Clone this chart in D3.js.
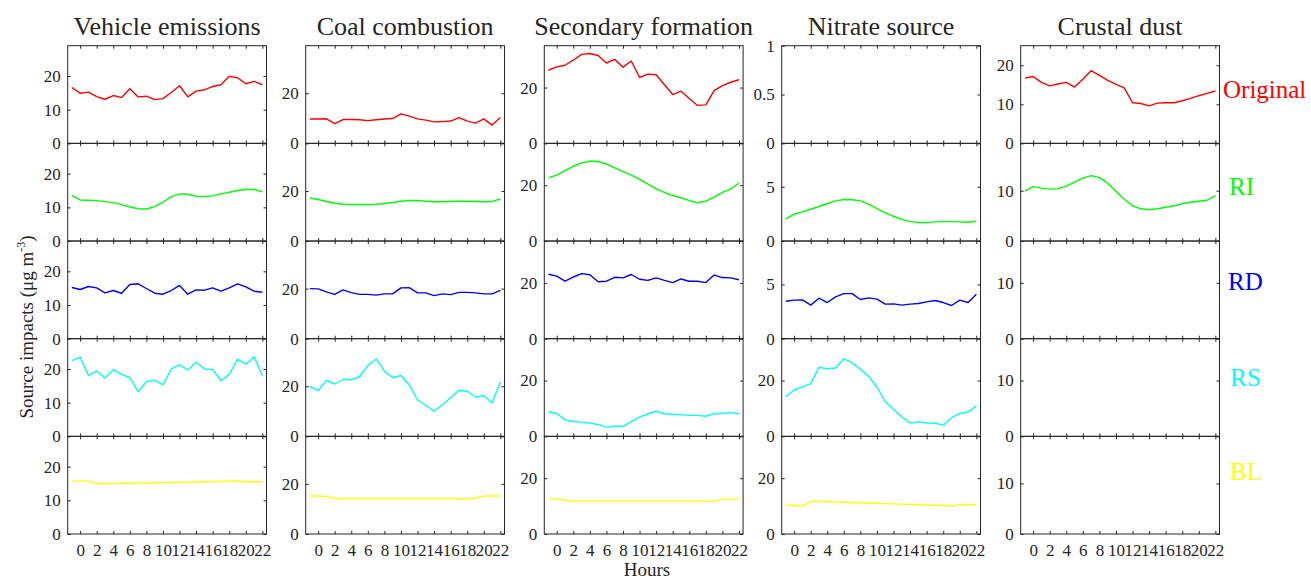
<!DOCTYPE html>
<html><head><meta charset="utf-8">
<script src="https://cdn.jsdelivr.net/npm/d3@7/dist/d3.min.js"></script>
<style>
body{margin:0;background:#fff}
svg text{font-family:"Liberation Serif","Times New Roman",serif;fill:#262626}
</style>
</head><body>
<svg id="chart" width="1311" height="578"></svg>
<script>
// ---------------- DATA ----------------
const sources = ["Vehicle emissions","Coal combustion","Secondary formation","Nitrate source","Crustal dust"];
const methods = ["Original","RI","RD","RS","BL"];
const methodColors = ["#ff0000","#00ff00","#0000ff","#00ffff","#ffff00"];
const hours = [1,2,3,4,5,6,7,8,9,10,11,12,13,14,15,16,17,18,19,20,21,22,23,24];
const hourTicks = [2,4,6,8,10,12,14,16,18,20,22,24];
const hourTickLabels = ["0","2","4","6","8","10","12","14","16","18","20","22"];

const vehicleOriginal = [16.6,14.9,15.2,13.9,13.1,14.2,13.6,16.2,13.8,14.0,13.0,13.3,15.1,17.1,13.8,15.5,15.9,16.9,17.4,19.9,19.5,17.7,18.4,17.4];
const vehicleRI = [13.5,12.2,12.1,12.0,11.7,11.4,10.8,10.1,9.6,9.5,10.2,11.5,13.2,14.0,13.9,13.3,13.2,13.4,14.0,14.5,15.0,15.3,15.3,14.6];
const vehicleRD = [15.2,14.6,15.5,15.1,13.6,14.3,13.5,16.1,16.3,14.9,13.5,13.2,14.3,15.8,13.2,14.5,14.4,15.1,14.1,15.1,16.3,15.4,14.1,13.8];
const vehicleRS = [22.5,23.5,18.1,19.4,17.3,19.8,18.4,17.4,13.3,16.2,16.7,15.3,20.0,21.2,19.7,22.0,20.0,19.8,16.5,18.4,22.9,21.4,23.6,18.0];
const vehicleBL = [15.7,15.7,15.7,14.9,14.9,14.95,15.0,15.05,15.1,15.15,15.2,15.25,15.3,15.35,15.4,15.45,15.5,15.55,15.6,15.7,15.75,15.5,15.5,15.5];

const coalOriginal = [9.7,9.7,9.8,7.9,9.5,9.5,9.4,9.1,9.4,9.7,9.9,11.8,10.9,9.8,9.3,8.6,8.7,8.9,10.3,8.9,8.1,9.8,7.3,10.3];
const coalRI = [17.2,16.6,15.8,15.1,14.7,14.6,14.6,14.6,14.7,15.0,15.4,15.9,16.2,16.2,15.9,15.7,15.7,15.8,15.9,15.9,15.8,15.7,15.8,16.8];
const coalRD = [20.0,19.9,18.7,17.7,19.5,18.4,17.7,17.7,17.4,17.9,17.9,20.3,20.4,18.3,18.3,17.2,17.9,17.6,18.5,18.5,18.3,17.9,17.9,19.3];
const coalRS = [20.0,18.3,22.3,20.9,22.7,22.6,23.8,28.3,30.9,26.0,23.4,24.3,20.5,14.5,12.3,10.1,12.6,15.4,18.4,18.0,15.7,16.2,13.4,21.7];
const coalBL = [15.2,15.2,15.0,14.2,14.2,14.2,14.2,14.2,14.2,14.2,14.2,14.2,14.2,14.2,14.2,14.2,14.2,14.2,14.2,14.2,14.2,15.2,15.2,15.2];

const secondaryOriginal = [26.2,27.4,28.0,29.8,31.9,32.2,31.5,28.8,30.1,27.3,29.5,23.6,24.8,24.6,21.0,17.5,18.7,16.1,13.6,13.8,18.9,20.7,21.9,22.8];
const secondaryRI = [22.7,23.6,25.2,26.8,28.0,28.6,28.5,27.6,26.2,24.9,23.6,22.1,20.4,18.7,17.4,16.3,15.5,14.5,13.7,14.3,15.7,17.4,18.7,20.7];
const secondaryRD = [23.1,22.4,20.6,22.1,23.3,22.9,20.4,20.6,22.0,21.8,23.0,21.3,20.9,21.8,20.9,20.1,21.4,20.6,20.6,20.1,22.8,21.9,21.8,21.1];
const secondaryRS = [8.8,8.2,5.9,5.3,5.0,4.8,4.2,3.3,3.6,3.6,5.3,7.0,8.0,9.0,8.1,7.9,7.8,7.5,7.5,7.2,8.1,8.2,8.5,8.1];
const secondaryBL = [12.5,12.5,12.2,11.7,11.7,11.7,11.7,11.7,11.7,11.7,11.7,11.7,11.7,11.7,11.7,11.7,11.7,11.7,11.7,11.7,11.7,12.5,12.5,12.5];

const nitrateOriginal = null;
const nitrateRI = [2.04,2.47,2.69,2.93,3.18,3.46,3.70,3.83,3.80,3.70,3.40,2.99,2.59,2.28,2.00,1.79,1.70,1.70,1.76,1.79,1.79,1.76,1.73,1.82];
const nitrateRD = [3.45,3.55,3.58,3.09,3.73,3.33,3.85,4.15,4.15,3.61,3.76,3.64,3.18,3.21,3.09,3.18,3.24,3.39,3.52,3.33,3.06,3.55,3.33,4.09];
const nitrateRS = [14.2,16.6,17.7,18.9,24.7,24.2,24.5,27.8,26.4,24.0,21.5,17.6,12.4,9.7,6.9,4.8,5.2,4.8,4.7,4.0,6.7,8.2,8.7,10.9];
const nitrateBL = [10.3,10.2,10.0,11.7,11.6,11.55,11.5,11.4,11.3,11.2,11.1,11.0,10.9,10.8,10.7,10.6,10.5,10.4,10.3,10.2,10.0,10.6,10.5,10.5];

const crustalOriginal = [16.7,17.1,15.6,14.7,15.2,15.6,14.4,16.4,18.6,17.4,16.1,15.1,14.2,10.4,10.2,9.6,10.3,10.4,10.4,10.9,11.5,12.2,12.8,13.4];
const crustalRI = [9.9,10.8,10.5,10.3,10.4,10.9,11.7,12.5,13.0,12.6,11.5,9.9,8.3,7.0,6.4,6.2,6.4,6.7,7.0,7.4,7.7,7.9,8.1,9.0];
const crustalRD = null;
const crustalRS = null;
const crustalBL = null;

// y-axis limits and ticks per column (rows Original..BL)
const vehicleYMax = [29,29,29,29,29];
const coalYMax = [39,39,39,39,39];
const secondaryYMax = [35,35,35,35,35];
const nitrateYMax = [1,9,9,35,35];
const crustalYMax = [25,19.4,17.5,17.5,19.3];

const vehicleYTicks = [[0,10,20],[0,10,20],[0,10,20],[0,10,20],[0,10,20]];
const coalYTicks = [[0,20],[0,20],[0,20],[0,20],[0,20]];
const secondaryYTicks = [[0,20],[0,20],[0,20],[0,20],[0,20]];
const nitrateYTicks = [[0,0.5,1],[0,5],[0,5],[0,20],[0,20]];
const crustalYTicks = [[0,10,20],[0,10],[0,10],[0,10],[0,10]];

const seriesGrid = [
  [vehicleOriginal,vehicleRI,vehicleRD,vehicleRS,vehicleBL],
  [coalOriginal,coalRI,coalRD,coalRS,coalBL],
  [secondaryOriginal,secondaryRI,secondaryRD,secondaryRS,secondaryBL],
  [nitrateOriginal,nitrateRI,nitrateRD,nitrateRS,nitrateBL],
  [crustalOriginal,crustalRI,crustalRD,crustalRS,crustalBL]
];
const yMaxGrid = [vehicleYMax,coalYMax,secondaryYMax,nitrateYMax,crustalYMax];
const yTickGrid = [vehicleYTicks,coalYTicks,secondaryYTicks,nitrateYTicks,crustalYTicks];

// ---------------- LAYOUT ----------------
const svg = d3.select("#chart");
const axisColor = "#262626";
const fontFam = '"Liberation Serif","Times New Roman",serif';
const panelLefts = [67.7,305.7,544.3,781.7,1020.7];
const panelW = 198.8;
const top0 = 45.7, bottom0 = 534;
const rowH = (bottom0 - top0) / 5;
const tickLen = 3;
const labelLayout = [[1223,98],[1229,195],[1228,290],[1230,386],[1230,480]];

const x = d3.scaleLinear().domain([0.5,24.5]);

sources.forEach((src, c) => {
  const left = panelLefts[c];
  x.range([left, left + panelW]);
  svg.append("text").attr("x", left + panelW/2).attr("y", 35)
    .attr("text-anchor","middle").attr("font-size", 26).text(src);

  methods.forEach((m, r) => {
    const ptop = top0 + r*rowH, pbot = ptop + rowH;
    const y = d3.scaleLinear().domain([0, yMaxGrid[c][r]]).range([pbot, ptop]);
    const g = svg.append("g");
    const ticks = yTickGrid[c][r];

    const ax = g.append("g").attr("transform",`translate(${left},0)`)
      .call(d3.axisLeft(y).tickValues(ticks).tickSizeInner(-tickLen).tickSizeOuter(0).tickPadding(7)
        .tickFormat(d => String(d)));
    const ar = g.append("g").attr("transform",`translate(${left+panelW},0)`)
      .call(d3.axisRight(y).tickValues(ticks).tickSizeInner(-tickLen).tickSizeOuter(0).tickFormat(""));
    const at = g.append("g").attr("transform",`translate(0,${ptop})`)
      .call(d3.axisTop(x).tickValues(hourTicks).tickSizeInner(-tickLen).tickSizeOuter(0).tickFormat(""));
    const ab = g.append("g").attr("transform",`translate(0,${pbot})`)
      .call(d3.axisBottom(x).tickValues(hourTicks).tickSizeInner(-tickLen).tickSizeOuter(0).tickPadding(10)
        .tickFormat((d,i) => r === 4 ? hourTickLabels[i] : ""));
    [ax,ar,at,ab].forEach(a => {
      a.attr("font-family", fontFam);
      a.select(".domain").remove();
      a.selectAll("line").attr("stroke", axisColor).attr("stroke-width",1);
      a.selectAll("text").attr("font-size",17).attr("fill",axisColor).style("font-family", fontFam);
    });

    const vals = seriesGrid[c][r];
    if (vals) {
      const line = d3.line().x((d,i) => x(hours[i])).y(d => y(d));
      g.append("path").datum(vals).attr("d", line)
        .attr("fill","none").attr("stroke", methodColors[r]).attr("stroke-width",1.4)
        .attr("stroke-linejoin","round");
    }
    g.append("rect").attr("x", left).attr("y", ptop).attr("width", panelW).attr("height", rowH)
      .attr("fill","none").attr("stroke", axisColor).attr("stroke-width",1);
  });
});

methods.forEach((m, r) => {
  svg.append("text").attr("x", labelLayout[r][0]).attr("y", labelLayout[r][1])
    .attr("font-size", 25).style("fill", methodColors[r]).text(m);
});

svg.append("text").attr("x", 647).attr("y", 576).attr("text-anchor","middle")
  .attr("font-size", 19).text("Hours");

const yl = svg.append("text").attr("transform","translate(33,327) rotate(-90)")
  .attr("text-anchor","middle").attr("font-size",19);
yl.append("tspan").text("Source impacts (μg m");
yl.append("tspan").attr("font-size",12).attr("dy",-8).text("-3");
yl.append("tspan").attr("dy",8).text(")");
</script>
</body></html>
